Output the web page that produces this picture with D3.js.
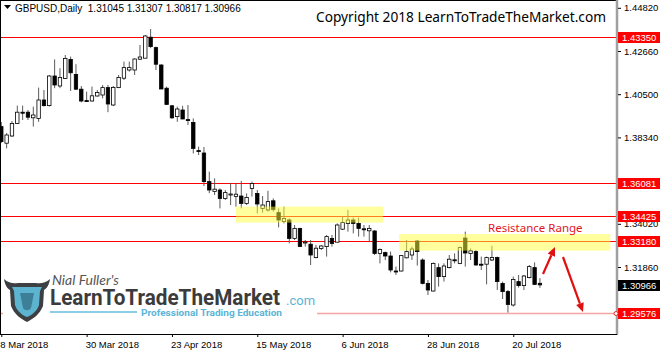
<!DOCTYPE html>
<html>
<head>
<meta charset="utf-8">
<script src="https://cdn.jsdelivr.net/npm/d3@7"></script>
<style>
  body { margin: 0; background: #fff; }
  svg { display: block; }
</style>
</head>
<body>
<svg id="chart" width="663" height="351"></svg>
<script>
// daily GBPUSD candles, 8 Mar 2018 -> 27 Jul 2018
const opens = [1.3888,1.3805,1.3841,1.3904,1.3960,1.3960,1.3932,1.3929,1.4021,1.3993,
  1.4141,1.4091,1.4129,1.4224,1.4149,1.4075,1.4018,1.4016,1.4041,1.4046,
  1.4083,1.3996,1.4083,1.4130,1.4171,1.4171,1.4225,1.4230,1.4335,1.4283,
  1.4196,1.4080,1.3992,1.3938,1.3971,1.3923,1.3909,1.3768,1.3756,1.3613,
  1.3563,1.3571,1.3529,1.3551,1.3538,1.3541,1.3504,1.3579,1.3554,1.3479,
  1.3471,1.3517,1.3458,1.3413,1.3421,1.3329,1.3379,1.3309,1.3300,1.3233,
  1.3279,1.3288,1.3329,1.3310,1.3375,1.3404,1.3421,1.3404,1.3377,1.3367,
  1.3366,1.3254,1.3258,1.3241,1.3166,1.3166,1.3232,1.3246,1.3316,1.3221,
  1.3104,1.3066,1.3183,1.3138,1.3183,1.3222,1.3204,1.3331,1.3254,1.3263,
  1.3200,1.3200,1.3221,1.3234,1.3104,1.3063,1.2996,1.3113,1.3093,1.3133,
  1.3183,1.31045];
const highs = [1.3911,1.3856,1.3916,1.3993,1.3993,1.3971,1.3988,1.4083,1.4071,1.4146,
  1.4224,1.4180,1.4246,1.4238,1.4200,1.4091,1.4063,1.4088,1.4071,1.4096,
  1.4096,1.4091,1.4146,1.4213,1.4213,1.4229,1.4296,1.4346,1.4376,1.4288,
  1.4200,1.4088,1.3996,1.3988,1.3992,1.3996,1.3929,1.3788,1.3786,1.3663,
  1.3629,1.3579,1.3571,1.3604,1.3604,1.3617,1.3554,1.3613,1.3571,1.3541,
  1.3567,1.3529,1.3479,1.3488,1.3429,1.3396,1.3382,1.3321,1.3321,1.3296,
  1.3296,1.3346,1.3346,1.3404,1.3438,1.3471,1.3433,1.3433,1.3396,1.3396,
  1.3371,1.3279,1.3263,1.3263,1.3188,1.3246,1.3321,1.3288,1.3321,1.3229,
  1.3121,1.3209,1.3204,1.3204,1.3246,1.3254,1.3288,1.3363,1.3279,1.3271,
  1.3238,1.3238,1.3292,1.3238,1.3113,1.3071,1.3138,1.3146,1.3146,1.3196,
  1.3209,1.31307];
const lows = [1.3806,1.3779,1.3836,1.3901,1.3921,1.3921,1.3888,1.3912,1.3988,1.3988,
  1.4080,1.4080,1.4126,1.4066,1.4071,1.4009,1.4013,1.4013,1.4038,1.4029,
  1.3960,1.3991,1.4080,1.4121,1.4163,1.4146,1.4221,1.4230,1.4280,1.4171,
  1.4076,1.3999,1.3926,1.3912,1.3926,1.3896,1.3754,1.3746,1.3591,1.3555,
  1.3546,1.3479,1.3521,1.3496,1.3488,1.3479,1.3496,1.3538,1.3454,1.3457,
  1.3463,1.3463,1.3384,1.3404,1.3304,1.3321,1.3288,1.3288,1.3196,1.3229,
  1.3271,1.3238,1.3288,1.3310,1.3371,1.3363,1.3354,1.3338,1.3338,1.3310,
  1.3246,1.3204,1.3221,1.3159,1.3146,1.3163,1.3229,1.3221,1.3193,1.3099,
  1.3046,1.3063,1.3088,1.3113,1.3179,1.3204,1.3200,1.3188,1.3221,1.3193,
  1.3171,1.3099,1.3216,1.3071,1.3026,1.2958,1.2988,1.3083,1.3071,1.3129,
  1.3096,1.30817];
const closes = [1.3813,1.3846,1.3904,1.3960,1.3958,1.3935,1.3946,1.4021,1.3993,1.4141,
  1.4096,1.4134,1.4229,1.4157,1.4075,1.4016,1.4016,1.4042,1.4059,1.4083,
  1.4001,1.4084,1.4134,1.4183,1.4183,1.4226,1.4236,1.4341,1.4288,1.4200,
  1.4076,1.3999,1.3932,1.3976,1.3926,1.3918,1.3779,1.3766,1.3613,1.3571,
  1.3575,1.3529,1.3558,1.3551,1.3550,1.3504,1.3534,1.3604,1.3501,1.3496,
  1.3513,1.3474,1.3421,1.3429,1.3329,1.3379,1.3288,1.3311,1.3246,1.3280,
  1.3291,1.3338,1.3304,1.3396,1.3408,1.3421,1.3404,1.3379,1.3375,1.3379,
  1.3254,1.3274,1.3241,1.3171,1.3164,1.3243,1.3263,1.3276,1.3263,1.3104,
  1.3071,1.3204,1.3138,1.3191,1.3225,1.3221,1.3283,1.3256,1.3267,1.3196,
  1.3198,1.3233,1.3234,1.3113,1.3063,1.2999,1.3124,1.3093,1.3141,1.3188,
  1.3099,1.30966];

const dateTicks = [0, 16, 32, 48, 64, 80, 96];
const dateLabels = ["8 Mar 2018", "30 Mar 2018", "23 Apr 2018", "15 May 2018", "6 Jun 2018", "28 Jun 2018", "20 Jul 2018"];
const priceTicks = [1.29700, 1.31860, 1.34020, 1.36180, 1.38340, 1.40500, 1.42660, 1.44820];
const levels = [1.43350, 1.36081, 1.34425, 1.33180];
const supportLevel = 1.29576;
// zones: [from bar, to bar, top price, bottom price]
const zones = [[44.0, 71.6, 1.3488, 1.3408], [74.6, 114.2, 1.3351, 1.3268]];

var W = 617, H = 334;
var svg = d3.select("#chart");
var font = "'Liberation Sans', Arial, sans-serif";

var x = d3.scaleLinear().domain([0, 101]).range([1.3, 1.3 + 5.333 * 101]);
var y = d3.scaleLinear().domain([1.2851, 1.4521]).range([H, 0]);

var plot = svg.append("g");

// horizontal levels (behind candles)
plot.selectAll(".lvl").data(levels).enter().append("line")
  .attr("x1", 0).attr("x2", W)
  .attr("y1", d => Math.round(y(d)) + 0.5).attr("y2", d => Math.round(y(d)) + 0.5)
  .attr("stroke", "#ff0000").attr("stroke-width", 1);

plot.append("line")
  .attr("x1", 0).attr("x2", W)
  .attr("y1", Math.round(y(supportLevel)) + 0.5).attr("y2", Math.round(y(supportLevel)) + 0.5)
  .attr("stroke", "#f5a3a3").attr("stroke-width", 1.5);

// candles
var idx = d3.range(opens.length);
var bw = 3.4;
plot.selectAll(".wick").data(idx).enter().append("line")
  .attr("x1", i => x(i)).attr("x2", i => x(i))
  .attr("y1", i => y(highs[i])).attr("y2", i => y(lows[i]))
  .attr("stroke", "#5a5a5a").attr("stroke-width", 1);

plot.selectAll(".body").data(idx).enter().append("rect")
  .attr("x", i => x(i) - bw / 2)
  .attr("y", i => y(Math.max(opens[i], closes[i])))
  .attr("width", bw)
  .attr("height", i => Math.max(1, Math.abs(y(opens[i]) - y(closes[i]))))
  .attr("fill", i => closes[i] >= opens[i] ? "#fff" : "#000")
  .attr("stroke", "#000").attr("stroke-width", 0.8);

// yellow zones
plot.selectAll(".zone").data(zones).enter().append("rect")
  .attr("x", d => x(d[0])).attr("y", d => y(d[2]))
  .attr("width", d => x(d[1]) - x(d[0]))
  .attr("height", d => y(d[3]) - y(d[2]))
  .attr("fill", "#ffff3c").attr("opacity", 0.5);

// logo background
var logo = svg.append("g");
logo.append("rect").attr("x", 3).attr("y", 266).attr("width", 314).attr("height", 60).attr("fill", "#fff");
// shield / bull head
logo.append("path")
  .attr("d", "M4,279 C8,283 14,284 18,283 L36,283 C40,284 46,283 50,279 C49,286 46,289 44,290 L43,306 C40,314 33,319 27,322 C21,319 14,314 11,306 L10,290 C8,289 5,286 4,279 Z")
  .attr("fill", "#3d3f42");
logo.append("path")
  .attr("d", "M12,287 L20,287 L34,287 L42,287 L40,291 L39,305 C37,311 32,315 27,317 C22,315 17,311 15,305 L14,291 Z")
  .attr("fill", "#5db4d1");
logo.append("path")
  .attr("d", "M20,293 L34,293 L31,308 C29,311 25,311 23,308 Z")
  .attr("fill", "#3d7f97");
logo.append("text").attr("x", 52).attr("y", 285)
  .attr("font-family", "Lato, sans-serif").attr("font-style", "italic")
  .attr("font-size", 14).attr("fill", "#555").text("Nial Fuller's");
logo.append("text").attr("x", 50).attr("y", 305)
  .attr("font-family", "Roboto, sans-serif").attr("font-weight", "bold")
  .attr("font-size", 22).attr("fill", "#3b3b3b")
  .attr("textLength", 230).attr("lengthAdjust", "spacingAndGlyphs")
  .text("LearnToTradeTheMarket");
logo.append("text").attr("x", 286).attr("y", 305)
  .attr("font-family", "Roboto, sans-serif").attr("font-size", 13).attr("fill", "#5ab4d6").text(".com");
logo.append("line").attr("x1", 50).attr("x2", 137).attr("y1", 312).attr("y2", 312)
  .attr("stroke", "#8ccfe5").attr("stroke-width", 2);
logo.append("text").attr("x", 141).attr("y", 316)
  .attr("font-family", "Roboto, sans-serif").attr("font-weight", "bold")
  .attr("font-size", 9.5).attr("fill", "#5ab4d6")
  .attr("textLength", 141).attr("lengthAdjust", "spacingAndGlyphs")
  .text("Professional Trading Education");

// annotation
svg.append("text").attr("x", 488).attr("y", 231.5)
  .attr("font-family", "'Noto Sans', sans-serif").attr("font-size", 11.5)
  .attr("fill", "#e3141b").text("Resistance Range");

function arrow(x1, y1, x2, y2) {
  var a = Math.atan2(y2 - y1, x2 - x1), L = 9, Wd = 4;
  var bx = x2 - L * Math.cos(a), by = y2 - L * Math.sin(a);
  svg.append("line").attr("x1", x1).attr("y1", y1).attr("x2", bx).attr("y2", by)
    .attr("stroke", "#e01010").attr("stroke-width", 2.2);
  svg.append("path")
    .attr("d", `M${x2},${y2} L${bx + Wd * Math.sin(a)},${by - Wd * Math.cos(a)} L${bx - Wd * Math.sin(a)},${by + Wd * Math.cos(a)} Z`)
    .attr("fill", "#e01010");
}
arrow(543, 274, 555, 247);
arrow(563, 257, 583, 312);

// frame
svg.append("line").attr("x1", 0.5).attr("x2", 0.5).attr("y1", 0).attr("y2", H).attr("stroke", "#000");
svg.append("line").attr("x1", 0).attr("x2", W).attr("y1", 0.5).attr("y2", 0.5).attr("stroke", "#000");
svg.append("line").attr("x1", W).attr("x2", W).attr("y1", 0).attr("y2", H + 1).attr("stroke", "#a0a0a0").attr("stroke-width", 2.5);

// price axis
var yAxis = svg.append("g").attr("transform", `translate(${W + 1},0)`)
  .call(d3.axisRight(y).tickValues(priceTicks).tickSize(3).tickPadding(3).tickFormat(d => d.toFixed(5)));
yAxis.select(".domain").remove();
yAxis.selectAll("text").attr("font-family", font).attr("font-size", 9.5).attr("fill", "#000");
// 1.36180 sits fully under the 1.36081 box in the picture
yAxis.selectAll(".tick").filter(d => Math.abs(d - 1.36180) < 1e-6).select("text").remove();

// date axis
var xAxis = svg.append("g").attr("transform", `translate(0,${H})`)
  .call(d3.axisBottom(x).tickValues(dateTicks).tickSize(3).tickFormat((d, i) => dateLabels[i]));
xAxis.select(".domain").attr("d", `M0,0.5H${W}`).attr("stroke", "#000");
xAxis.selectAll("text").attr("font-family", font).attr("font-size", 9.5)
  .attr("text-anchor", "start").attr("dx", -1.5).attr("y", 7).attr("fill", "#000");

// level price boxes
var boxes = levels.concat([supportLevel]).map(v => ({ v: v, bg: "#ff0000" }));
boxes.push({ v: closes[closes.length - 1], bg: "#000" });
var bx = svg.selectAll(".pbox").data(boxes).enter().append("g")
  .attr("transform", d => `translate(618,${Math.round(y(d.v)) - 5})`);
bx.append("rect").attr("width", 42).attr("height", 11).attr("fill", d => d.bg);
bx.append("text").attr("x", 4).attr("y", 9).attr("font-family", font).attr("font-size", 9.5)
  .attr("fill", "#fff").text(d => d.v.toFixed(5));

svg.append("circle").attr("cx", 616).attr("cy", Math.round(y(supportLevel)) + 0.5).attr("r", 2)
  .attr("fill", "#fff").attr("stroke", "#e03030").attr("stroke-width", 1);

// header
var last = opens.length - 1;
svg.append("path").attr("d", "M4,5 L11,5 L7.5,9 Z").attr("fill", "#000");
svg.append("text").attr("x", 15).attr("y", 11.5).attr("font-family", font).attr("font-size", 10).attr("fill", "#000")
  .attr("xml:space", "preserve")
  .text(`GBPUSD,Daily  ${opens[last].toFixed(5)} ${highs[last].toFixed(5)} ${lows[last].toFixed(5)} ${closes[last].toFixed(5)}`);
svg.append("text").attr("x", 316).attr("y", 22).attr("font-family", "'Noto Sans', sans-serif")
  .attr("font-size", 14).attr("fill", "#000")
  .attr("textLength", 290).attr("lengthAdjust", "spacingAndGlyphs")
  .text("Copyright 2018 LearnToTradeTheMarket.com");
</script>
</body>
</html>
